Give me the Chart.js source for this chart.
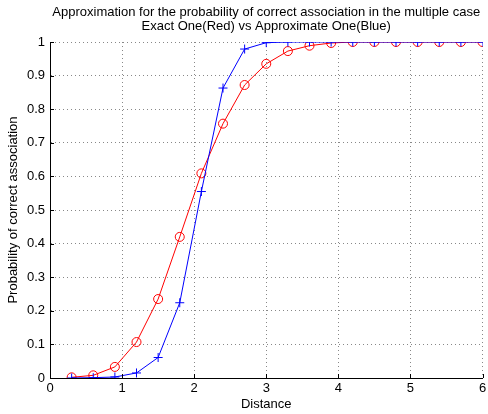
<!DOCTYPE html>
<html>
<head>
<meta charset="utf-8">
<script src="https://cdn.jsdelivr.net/npm/chart.js@4/dist/chart.umd.min.js"></script>
<style>
html,body{margin:0;padding:0;background:#fff;}
#wrap{width:488px;height:414px;position:relative;}
</style>
</head>
<body>
<div id="wrap"><canvas id="c" width="488" height="414"></canvas></div>
<script>
const distance = [0.3,0.6,0.9,1.2,1.5,1.8,2.1,2.4,2.7,3.0,3.3,3.6,3.9,4.2,4.5,4.8,5.1,5.4,5.7,6.0];
const exactRed = [0.002,0.008,0.033,0.107,0.235,0.420,0.609,0.757,0.872,0.935,0.973,0.989,0.997,1.0,1.0,1.0,1.0,1.0,1.0,1.0];
const approxBlue = [0.0,0.001,0.003,0.015,0.061,0.224,0.555,0.863,0.979,0.998,1.0,1.0,1.0,1.0,1.0,1.0,1.0,1.0,1.0,1.0];
const xTicks = [0,1,2,3,4,5,6];
const yTicks = [0,0.1,0.2,0.3,0.4,0.5,0.6,0.7,0.8,0.9,1];
const titleLines = ['Approximation for the probability of correct association in the multiple case','Exact One(Red) vs Approximate One(Blue)'];

const FONT = 'Liberation Sans, Arial, Helvetica, sans-serif';
Chart.defaults.font.family = FONT;
Chart.defaults.color = '#000';

const inwardTicks = {
  id: 'inwardTicks',
  afterDraw(chart) {
    const ctx = chart.ctx, xs = chart.scales.x, ys = chart.scales.y;
    const a = chart.chartArea;
    ctx.save();
    ctx.strokeStyle = '#000';
    ctx.lineWidth = 1;
    ctx.beginPath();
    xTicks.forEach(v => {
      const px = Math.round(xs.getPixelForValue(v)) + 0.5;
      ctx.moveTo(px, a.bottom); ctx.lineTo(px, a.bottom - 4);
    });
    yTicks.forEach(v => {
      const py = Math.round(ys.getPixelForValue(v)) + 0.5;
      ctx.moveTo(a.left, py); ctx.lineTo(a.left + 4, py);
    });
    ctx.stroke();
    ctx.restore();
  }
};

new Chart(document.getElementById('c'), {
  type: 'line',
  data: {
    datasets: [
      {
        label: 'Exact',
        data: distance.map((x,i)=>({x:x,y:exactRed[i]})),
        borderColor: '#ff0000',
        backgroundColor: 'rgba(0,0,0,0)',
        borderWidth: 1,
        pointStyle: 'circle',
        pointRadius: 4.5,
        pointBorderWidth: 1,
        pointBorderColor: '#ff0000',
        pointBackgroundColor: 'rgba(0,0,0,0)',
        tension: 0,
        order: 1
      },
      {
        label: 'Approximate',
        data: distance.map((x,i)=>({x:x,y:approxBlue[i]})),
        borderColor: '#0000ff',
        backgroundColor: 'rgba(0,0,0,0)',
        borderWidth: 1,
        pointStyle: 'cross',
        pointRadius: 4.5,
        pointBorderWidth: 1,
        pointBorderColor: '#0000ff',
        tension: 0,
        order: 0
      }
    ]
  },
  options: {
    responsive: false,
    animation: false,
    events: [],
    layout: { padding: { left: 0, right: 3, top: 0, bottom: 0 } },
    plugins: {
      legend: { display: false },
      tooltip: { enabled: false },
      title: {
        display: true,
        text: titleLines,
        fullSize: false,
        color: '#000',
        font: { family: FONT, size: 13, weight: 'normal', lineHeight: '14px' },
        padding: { top: 5, bottom: 9 }
      }
    },
    scales: {
      x: {
        type: 'linear',
        min: 0, max: 6,
        afterFit(s) { s.height = 36; s.paddingLeft = 0; s.paddingRight = 0; },
        afterBuildTicks(s) { s.ticks = xTicks.map(v => ({value: v})); },
        ticks: { font: { size: 13 }, padding: 3, color: '#000', maxRotation: 0 },
        grid: { color: '#888', lineWidth: 1, drawTicks: false },
        border: { display: true, color: '#000', width: 1, dash: [1,3] },
        title: { display: true, text: 'Distance', font: { size: 13 }, color: '#000', padding: { top: 0, bottom: 2 } }
      },
      y: {
        type: 'linear',
        min: 0, max: 1,
        afterFit(s) { s.width = 50; s.paddingTop = 0; s.paddingBottom = 0; },
        afterBuildTicks(s) { s.ticks = yTicks.map(v => ({value: v})); },
        ticks: { font: { size: 13 }, padding: 5, color: '#000', callback: v => String(v) },
        grid: { color: '#888', lineWidth: 1, drawTicks: false },
        border: { display: true, color: '#000', width: 1, dash: [1,3] },
        title: { display: true, text: 'Probability of correct association', font: { size: 13 }, color: '#000', padding: { top: 6, bottom: 0 } }
      }
    }
  },
  plugins: [inwardTicks]
});
</script>
</body>
</html>
